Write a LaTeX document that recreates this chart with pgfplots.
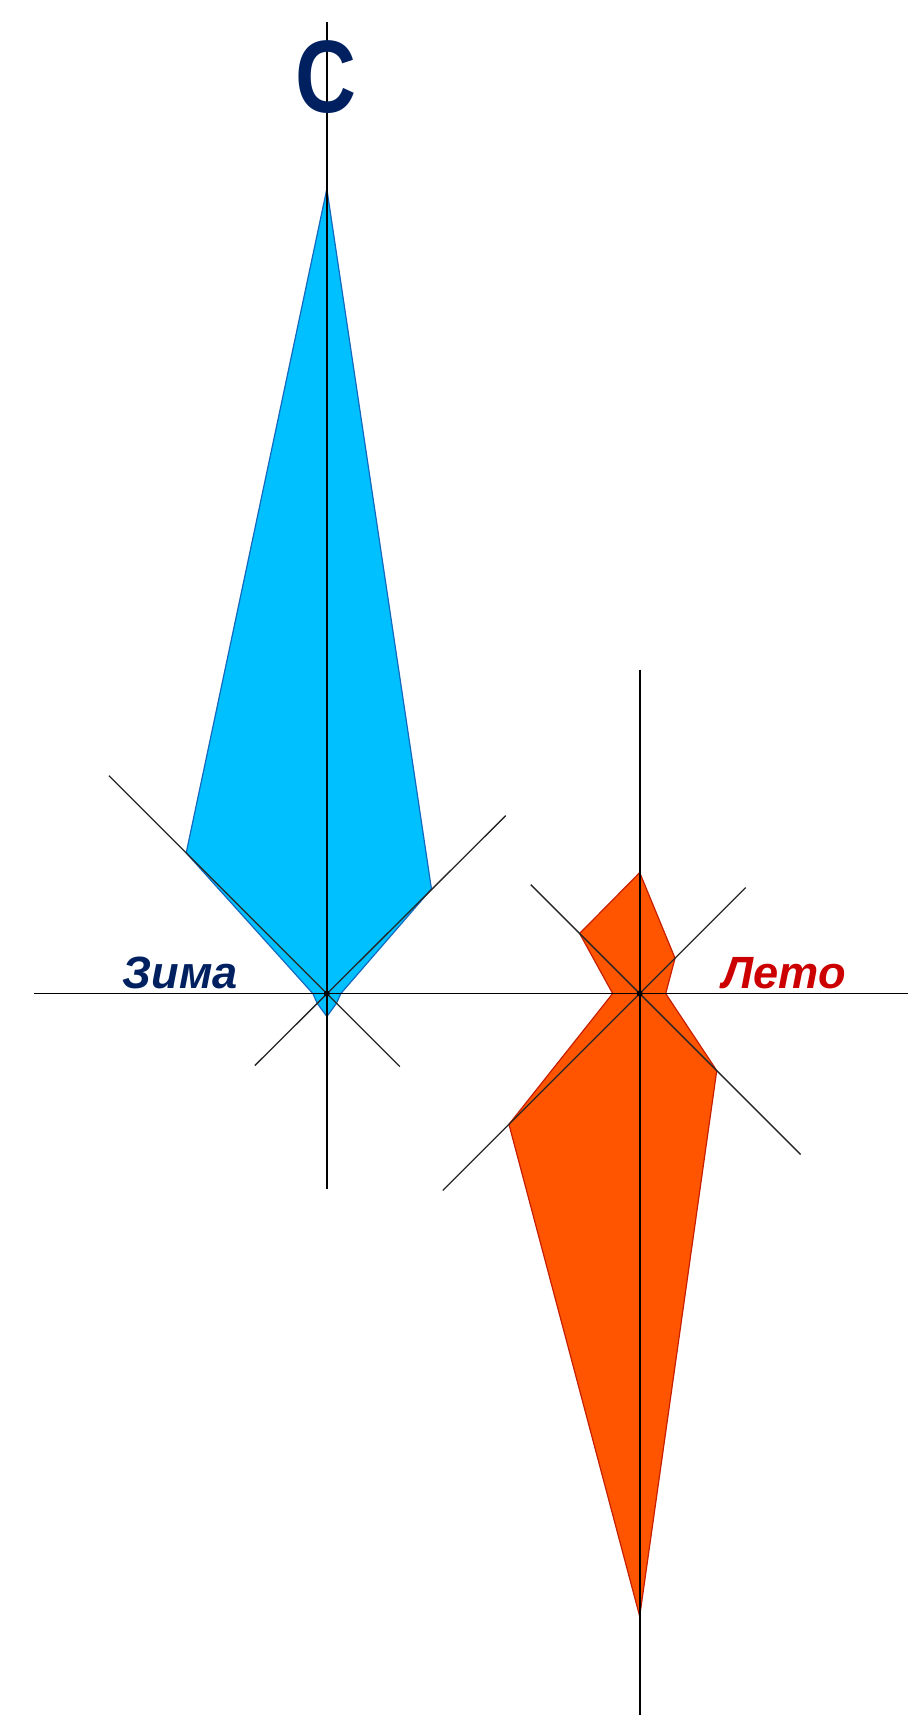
\documentclass[border=0pt]{standalone}
\usepackage{pgfplots}
\pgfplotsset{compat=1.18}
\usepackage{pgfplotstable}
\usepackage{graphicx}
\usepackage{fontspec}
\setmainfont{Liberation Sans}
\definecolor{wfill}{RGB}{0,192,255}
\definecolor{wline}{RGB}{20,105,190}
\definecolor{sfill}{RGB}{255,85,0}
\definecolor{sline}{RGB}{200,30,0}
\definecolor{navy}{RGB}{0,32,96}
\definecolor{lred}{RGB}{204,0,0}
% wind roses: bearing (deg, N=0, clockwise), length (px)
\pgfplotstableread{
bearing r
0 805
45 148
90 14
135 13.7
180 23
225 13.7
270 14
315 199
360 805
}\winter
\pgfplotstableread{
bearing r
0 121
45 50
90 26
135 109
180 623
225 185
270 27
315 85
360 121
}\summer
\begin{document}
\begin{tikzpicture}
\begin{axis}[x=0.25pt, y=0.25pt, xmin=0, xmax=908, ymin=0, ymax=1716,
  y dir=reverse, hide axis, clip=false, scale only axis]
\addplot[draw=none] coordinates {(0,0) (908,1716)};
% Winter rose, centre (327,994)
\addplot[fill=wfill, draw=wline, line width=0.3pt, line join=miter]
  table[x expr={327+\thisrow{r}*sin(\thisrow{bearing})}, y expr={994-\thisrow{r}*cos(\thisrow{bearing})}] {\winter};
% Summer rose, centre (640,994)
\addplot[fill=sfill, draw=sline, line width=0.3pt, line join=miter]
  table[x expr={640+\thisrow{r}*sin(\thisrow{bearing})}, y expr={994-\thisrow{r}*cos(\thisrow{bearing})}] {\summer};
% axis lines
\addplot[black, line width=0.4pt] coordinates {(34,994) (908,994)};
\addplot[black, line width=0.4pt] coordinates {(327,22) (327,1190)};
\addplot[black!85, line width=0.33pt] coordinates {(109,776) (400,1067)};
\addplot[black!85, line width=0.33pt] coordinates {(506,816) (255,1066)};
\addplot[black, line width=0.4pt] coordinates {(640,670) (640,1716)};
\addplot[black!85, line width=0.33pt] coordinates {(531,885) (801,1155)};
\addplot[black!85, line width=0.33pt] coordinates {(746,888) (443,1191)};
\addplot[only marks, mark=*, mark size=0.55pt, black] coordinates {(327,994) (640,994)};
% labels
\node[inner sep=0pt, text=navy] at (axis cs:326,77)
  {\scalebox{0.82}[1]{\fontsize{25.75pt}{26pt}\selectfont\bfseries С}};
\node[inner sep=0pt, anchor=base west, text=navy] at (axis cs:122,989)
  {\fontsize{11.3pt}{12pt}\selectfont\bfseries\itshape Зима};
\node[inner sep=0pt, anchor=base west, text=lred] at (axis cs:722,989)
  {\fontsize{11.3pt}{12pt}\selectfont\bfseries\itshape Лето};
\end{axis}
\end{tikzpicture}
\end{document}
